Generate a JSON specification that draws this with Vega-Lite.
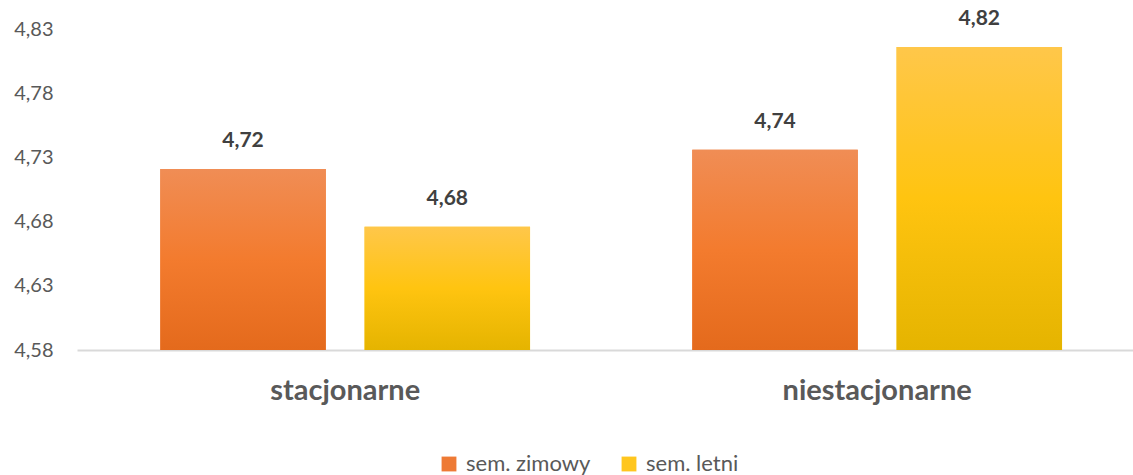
{
  "$schema": "https://vega.github.io/schema/vega-lite/v6.json",
  "width": 1056,
  "height": 321,
  "autosize": {"type": "none"},
  "padding": {"left": 77, "top": 29, "right": 0, "bottom": 125},
  "background": "white",
  "data": {
    "values": [
      {"tryb": "stacjonarne", "sem": "sem. zimowy", "ocena": 4.721},
      {"tryb": "stacjonarne", "sem": "sem. letni", "ocena": 4.676},
      {"tryb": "niestacjonarne", "sem": "sem. zimowy", "ocena": 4.736},
      {"tryb": "niestacjonarne", "sem": "sem. letni", "ocena": 4.816}
    ]
  },
  "encoding": {
    "x": {
      "field": "tryb", "type": "nominal", "title": null,
      "scale": {"domain": ["stacjonarne", "niestacjonarne"], "paddingInner": 0.305, "paddingOuter": 0.145, "align": 0.54},
      "axis": {"labelAngle": 0, "labelFont": "Lato", "labelFontSize": 29, "labelFontWeight": "bold", "labelColor": "#595959", "labelPadding": 26, "labelLimit": 0, "ticks": false, "domainColor": "#d9d9d9", "domainWidth": 2}
    },
    "xOffset": {
      "field": "sem", "type": "nominal",
      "scale": {"domain": ["sem. zimowy", "sem. letni"], "paddingInner": 0.19}
    },
    "y": {
      "field": "ocena", "type": "quantitative", "title": null,
      "scale": {"domain": [4.58, 4.83], "nice": false, "zero": false},
      "axis": {"values": [4.58, 4.63, 4.68, 4.73, 4.78, 4.83], "format": ".2f", "labelFont": "Lato", "labelFontSize": 20, "labelColor": "#595959", "labelPadding": 24, "ticks": false, "domain": false, "grid": false}
    }
  },
  "layer": [
    {
      "mark": {"type": "bar"},
      "encoding": {
        "y2": {"datum": 4.58},
        "color": {
          "field": "sem", "type": "nominal",
          "scale": {"domain": ["sem. zimowy", "sem. letni"], "range": ["#EE7A35", "#FFC61E"]},
          "legend": {"title": null, "orient": "none", "legendX": 361, "legendY": 424, "padding": 0, "direction": "horizontal", "symbolType": "square", "symbolSize": 220, "symbolStrokeWidth": 0, "labelFont": "Lato", "labelFontSize": 22, "labelColor": "#595959", "columnPadding": 27, "labelOffset": 6}
        }
      }
    },
    {
      "transform": [{"filter": "datum.sem === 'sem. zimowy'"}],
      "mark": {"type": "bar", "fill": {"gradient": "linear", "x1": 0, "y1": 0, "x2": 0, "y2": 1, "stops": [{"offset": 0, "color": "#F08D55"}, {"offset": 0.5, "color": "#F37B2E"}, {"offset": 1, "color": "#E46A1C"}]}},
      "encoding": {"y2": {"datum": 4.58}}
    },
    {
      "transform": [{"filter": "datum.sem === 'sem. letni'"}],
      "mark": {"type": "bar", "fill": {"gradient": "linear", "x1": 0, "y1": 0, "x2": 0, "y2": 1, "stops": [{"offset": 0, "color": "#FFC74A"}, {"offset": 0.5, "color": "#FFC410"}, {"offset": 1, "color": "#E5B400"}]}},
      "encoding": {"y2": {"datum": 4.58}}
    },
    {
      "mark": {"type": "text", "baseline": "bottom", "dy": -18, "font": "Lato", "fontSize": 21, "fontWeight": "bold", "color": "#404040"},
      "encoding": {"text": {"field": "ocena", "type": "quantitative", "format": ".2f"}}
    }
  ],
  "config": {
    "view": {"stroke": null},
    "locale": {"number": {"decimal": ",", "thousands": " ", "grouping": [3], "currency": ["", " zł"]}}
  }
}
